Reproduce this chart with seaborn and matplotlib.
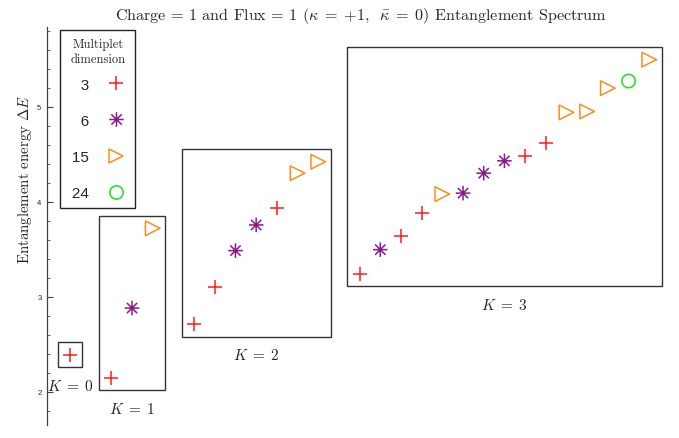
import numpy as np
import pandas as pd
import seaborn as sns
import matplotlib.pyplot as plt
from matplotlib.path import Path
from matplotlib.lines import Line2D
from matplotlib.patches import Rectangle
from matplotlib.ticker import MultipleLocator

# Entanglement levels: momentum sector K, multiplet dimension, energy
sector = [0,
          1, 1, 1,
          2, 2, 2, 2, 2, 2, 2,
          3, 3, 3, 3, 3, 3, 3, 3, 3, 3, 3, 3, 3, 3, 3]
dimension = [3,
             3, 6, 15,
             3, 3, 6, 6, 3, 15, 15,
             3, 6, 3, 3, 15, 6, 6, 6, 3, 3, 15, 15, 15, 24, 15]
energy = [2.39,
          2.145, 2.88, 3.72,
          2.71, 3.10, 3.485, 3.755, 3.93, 4.30, 4.42,
          3.24, 3.495, 3.635, 3.88, 4.08, 4.09, 4.30, 4.43, 4.48, 4.62,
          4.94, 4.95, 5.195, 5.27, 5.495]

dims = [3, 6, 15, 24]
dim_labels = ["\u2005\u20053", "\u2005\u20056", "\u200515", "\u200524"]
dim_colors = ["#ff1a1a", "#8b1a8b", "#ff8c1a", "#19e019"]

sns.set_style("white")
plt.rcParams["font.family"] = ["Liberation Sans", "DejaVu Sans"]
plt.rcParams["mathtext.fontset"] = "cm"
SERIF = "cmr10"

df = pd.DataFrame({"K": sector, "dim": dimension, "E": energy})
# levels laid out left to right, one empty slot between sectors
df["slot"] = np.arange(len(df)) + df["K"]

# eight-spoke asterisk marker
ang = np.deg2rad([0, 45, 90, 135])
verts, codes = [], []
for a in ang:
    verts += [(-np.cos(a), -np.sin(a)), (np.cos(a), np.sin(a))]
    codes += [Path.MOVETO, Path.LINETO]
asterisk = Path(verts, codes)

markers = {3: "+", 6: asterisk, 15: ">", 24: "o"}
sizes = {3: 10.5, 6: 10.5, 15: 10.5, 24: 9.6}

fig = plt.figure(figsize=(6.79, 4.39), dpi=100)
ax = fig.add_axes([47 / 679, 1 - 426 / 439, 625 / 679, 398 / 439])

for d, c in zip(dims, dim_colors):
    sub = df[df["dim"] == d]
    m = markers[d]
    if d == 3:
        sns.scatterplot(data=sub, x="slot", y="E", marker=m, s=sizes[d] ** 2,
                        color=c, linewidth=1.1, ax=ax, legend=False, zorder=3)
    else:
        sns.scatterplot(data=sub, x="slot", y="E", marker=m, s=sizes[d] ** 2,
                        facecolor="none", edgecolor=c, linewidth=1.1,
                        ax=ax, legend=False, zorder=3)

# frame each momentum sector and label it
pad_x, pad_y = 0.6, 0.13
for k, g in df.groupby("K"):
    x0, x1 = g["slot"].min() - pad_x, g["slot"].max() + pad_x
    y0, y1 = g["E"].min() - pad_y, g["E"].max() + pad_y
    ax.add_patch(Rectangle((x0, y0), x1 - x0, y1 - y0, fill=False,
                           edgecolor="#333333", linewidth=1.0, zorder=2))
    ax.annotate(rf"$K\;=\;{k}$", xy=((x0 + x1) / 2, y0), xytext=(0, -13),
                textcoords="offset points", ha="center", va="center",
                fontsize=11)

ax.set_xlim(-1.11, 29.1)
ax.set_ylim(1.649, 5.839)
ax.set_xticks([])
ax.set_xlabel("")
ax.yaxis.set_major_locator(MultipleLocator(1))
ax.yaxis.set_minor_locator(MultipleLocator(0.2))
ax.tick_params(axis="y", which="major", direction="in", left=True,
               length=4, width=0.8, color="#444444", labelsize=5.5, pad=4)
ax.tick_params(axis="y", which="minor", direction="in", left=True,
               length=2.5, width=0.6, color="#444444")
for side in ("top", "right", "bottom"):
    ax.spines[side].set_visible(False)
ax.spines["left"].set_color("#444444")
ax.spines["left"].set_linewidth(0.9)

ax.set_ylabel(r"Entanglement energy $\Delta E$", family=SERIF, fontsize=10.7)
ax.yaxis.set_label_coords(-0.0216, 0.62)

fig.text(361 / 679, 1 - 16 / 439,
         r"Charge = 1 and Flux = 1 ($\kappa\;=\;{+1},\;\;\bar{\kappa}\;=\;0$) Entanglement Spectrum",
         ha="center", va="center", family=SERIF, fontsize=11.6)

handles = [Line2D([], [], linestyle="none", marker=markers[d],
                  markersize=sizes[d], markerfacecolor="none",
                  markeredgecolor=c, markeredgewidth=1.1)
           for d, c in zip(dims, dim_colors)]
leg = ax.legend(handles, dim_labels, loc="upper left",
                bbox_to_anchor=(13.3 / 625, (426 - 31) / 398),
                borderaxespad=0, markerfirst=False,
                title="Multiplet\ndimension", fontsize=11,
                title_fontproperties={"family": SERIF, "size": 9},
                labelspacing=1.455, handlelength=1.48, handletextpad=1.05,
                borderpad=0.5, fancybox=False, framealpha=1,
                edgecolor="#222222")
leg.get_frame().set_linewidth(1.0)
leg.get_title().set_multialignment("center")
leg.get_title().set_linespacing(1.35)
# tighter gap between the title and the first entry
leg._legend_box.sep = 9

fig.savefig("out.png", dpi=100)
